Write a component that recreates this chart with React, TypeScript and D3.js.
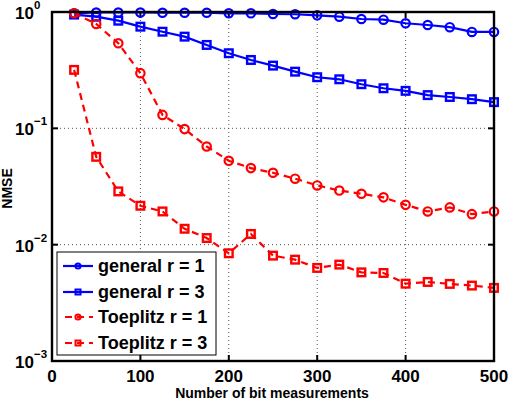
import * as d3 from 'd3';
import * as React from 'react';

const xs = [25, 50, 75, 100, 125, 150, 175, 200, 225, 250, 275, 300, 325, 350, 375, 400, 425, 450, 475, 500];

const generalR1 = [0.975, 0.99, 0.99, 0.99, 0.985, 0.985, 0.985, 0.975, 0.975, 0.961, 0.956, 0.937, 0.911, 0.871, 0.859, 0.80, 0.773, 0.74, 0.674, 0.674];
const generalR3 = [0.95, 0.911, 0.842, 0.748, 0.677, 0.614, 0.521, 0.442, 0.387, 0.346, 0.307, 0.275, 0.264, 0.2395, 0.221, 0.21, 0.193, 0.186, 0.178, 0.168];
const toeplitzR1 = [0.975, 0.789, 0.539, 0.298, 0.1305, 0.0985, 0.0698, 0.0526, 0.0455, 0.0415, 0.0369, 0.0323, 0.0292, 0.0274, 0.0255, 0.022, 0.0193, 0.0209, 0.0183, 0.0193];
const toeplitzR3 = [0.318, 0.0569, 0.0287, 0.0216, 0.0193, 0.0137, 0.0114, 0.00843, 0.01236, 0.00805, 0.00743, 0.00631, 0.00674, 0.00578, 0.00571, 0.00462, 0.00478, 0.0046, 0.00445, 0.00425];

const xTicks = [0, 100, 200, 300, 400, 500];
const yTicks = [1e-3, 1e-2, 1e-1, 1];
const yExps = ['\u22123', '\u22122', '\u22121', '0'];

interface ISeries {
  label: string;
  values: number[];
  color: string;
  dashed: boolean;
  marker: 'circle' | 'square';
}

const series: ISeries[] = [
  { label: 'general r = 1', values: generalR1, color: '#0000ff', dashed: false, marker: 'circle' },
  { label: 'general r = 3', values: generalR3, color: '#0000ff', dashed: false, marker: 'square' },
  { label: 'Toeplitz r = 1', values: toeplitzR1, color: '#ff0000', dashed: true, marker: 'circle' },
  { label: 'Toeplitz r = 3', values: toeplitzR3, color: '#ff0000', dashed: true, marker: 'square' },
];

const FONT = '"Liberation Sans", Arial, Helvetica, sans-serif';

const left = 52;
const right = 494;
const top = 12;
const bottom = 361;

const x = d3.scaleLinear().domain([0, 500]).range([left, right]);
const y = d3.scaleLog().domain([1e-3, 1]).range([bottom, top]);

const renderMarker = (s: ISeries, cx: number, cy: number, key: number) => {
  if (s.marker === 'circle') {
    return <circle key={key} cx={cx} cy={cy} r={4.2} fill='none' stroke={s.color} strokeWidth={2.2} />;
  }
  return <rect key={key} x={cx - 3.8} y={cy - 3.8} width={7.6} height={7.6} fill='none' stroke={s.color} strokeWidth={2.4} />;
};

const App = () => {
  const line = d3.line<number>()
    .x((d, i) => x(xs[i]))
    .y((d) => y(d));

  const legendX = 57;
  const legendY = 252;
  const legendRows = [266, 292, 317, 343];

  return (
    <svg width={510} height={400} style={{ position: 'absolute', left: 0, top: 0, background: '#fff' }}
      fontFamily={FONT}>
      {/* grid */}
      {xTicks.slice(1, -1).map((t) => (
        <line key={'gx' + t} x1={x(t)} x2={x(t)} y1={top} y2={bottom}
          stroke='#555' strokeWidth={1} strokeDasharray='1,3' />
      ))}
      {yTicks.slice(1, -1).map((t) => (
        <line key={'gy' + t} x1={left} x2={right} y1={y(t)} y2={y(t)}
          stroke='#555' strokeWidth={1} strokeDasharray='1,3' />
      ))}
      {/* ticks */}
      {xTicks.slice(1, -1).map((t) => (
        <g key={'tx' + t}>
          <line x1={x(t)} x2={x(t)} y1={bottom} y2={bottom - 6} stroke='#000' strokeWidth={2} />
          <line x1={x(t)} x2={x(t)} y1={top} y2={top + 6} stroke='#000' strokeWidth={2} />
        </g>
      ))}
      {yTicks.slice(1, -1).map((t) => (
        <g key={'ty' + t}>
          <line x1={left} x2={left + 6} y1={y(t)} y2={y(t)} stroke='#000' strokeWidth={2} />
          <line x1={right} x2={right - 6} y1={y(t)} y2={y(t)} stroke='#000' strokeWidth={2} />
        </g>
      ))}
      {/* series */}
      {series.map((s, si) => (
        <g key={'s' + si}>
          <path d={line(s.values) || ''} fill='none' stroke={s.color} strokeWidth={2.2}
            strokeDasharray={s.dashed ? '7,5' : undefined} />
          {s.values.map((v, i) => renderMarker(s, x(xs[i]), y(v), i))}
        </g>
      ))}
      {/* box */}
      <rect x={left} y={top} width={right - left} height={bottom - top} fill='none' stroke='#000' strokeWidth={2.4} />
      {/* x tick labels */}
      {xTicks.map((t) => (
        <text key={'lx' + t} x={x(t)} y={382} textAnchor='middle' fontSize={17} fontWeight='bold'>{t}</text>
      ))}
      {/* y tick labels */}
      {yTicks.map((t, i) => (
        <g key={'ly' + t}>
          <text x={34} y={y(t) + 7} textAnchor='end' fontSize={17} fontWeight='bold'>10</text>
          <text x={34} y={y(t) - 3} textAnchor='start' fontSize={11.5} fontWeight='bold'>{yExps[i]}</text>
        </g>
      ))}
      <text x={272} y={398} textAnchor='middle' fontSize={14} fontWeight='bold'>Number of bit measurements</text>
      <text transform={`translate(12, ${(top + bottom) / 2 + 2}) rotate(-90)`} textAnchor='middle'
        fontSize={14} fontWeight='bold'>NMSE</text>
      {/* legend */}
      <rect x={legendX} y={legendY} width={159} height={103} fill='#fff' stroke='#000' strokeWidth={1} />
      {series.map((s, i) => (
        <g key={'lg' + i}>
          <line x1={63} x2={93} y1={legendRows[i]} y2={legendRows[i]} stroke={s.color} strokeWidth={2.2}
            strokeDasharray={s.dashed ? '7,5' : undefined} strokeDashoffset={s.dashed ? -2 : 0} />
          {s.marker === 'circle'
            ? <circle cx={78} cy={legendRows[i]} r={2.6} fill='none' stroke={s.color} strokeWidth={2} />
            : <rect x={75.5} y={legendRows[i] - 2.5} width={5} height={5} fill='none' stroke={s.color} strokeWidth={2} />}
          <text x={98} y={legendRows[i] + 6} fontSize={18} fontWeight='bold'>{s.label}</text>
        </g>
      ))}
    </svg>
  );
};

export default App;
